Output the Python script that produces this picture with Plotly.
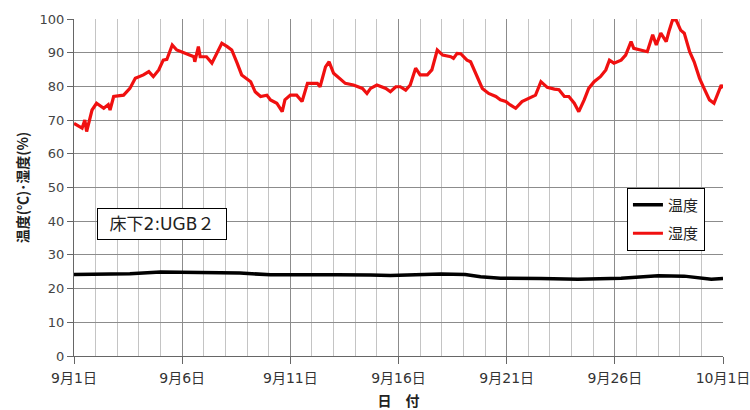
import pandas as pd
import plotly.graph_objects as go

# ---- data ----
start = pd.Timestamp("2023-09-01 00:00")

hum_hours = [0, 9, 12, 14, 20, 25, 33, 38, 40, 44, 55, 62, 68, 77, 83, 88, 94, 99, 103, 109,
             114, 123, 133, 134, 138, 140, 147, 153, 159, 164, 170, 175, 181, 186, 196, 201, 207,
             214, 218, 225, 231, 234, 240, 247, 253, 259, 270, 273, 279, 283, 288, 294, 301, 310,
             320, 325, 329, 336, 346, 351, 357, 362, 368, 373, 379, 384, 392, 397, 403, 409, 418,
             421, 425, 429, 436, 440, 447, 453, 460, 468, 473, 479, 484, 490, 497, 505, 512, 518,
             525, 533, 538, 544, 549, 555, 560, 566, 571, 577, 584, 590, 594, 599, 607, 612, 618,
             621, 629, 636, 642, 646, 651, 657, 660, 664, 668, 673, 677, 683, 688, 694, 699, 705,
             710, 714, 718, 720]
hum_values = [69.0, 67.6, 70.0, 66.6, 73.0, 75.0, 73.5, 74.6, 73.0, 77.0, 77.4, 79.4, 82.4, 83.4,
              84.4, 82.9, 84.9, 87.8, 88.0, 92.3, 90.8, 89.8, 88.8, 87.3, 91.8, 88.8, 88.8, 86.9,
              90.3, 92.8, 91.8, 90.8, 86.9, 83.4, 81.4, 78.4, 77.0, 77.4, 76.0, 75.0, 72.5, 76.0,
              77.4, 77.4, 75.5, 80.9, 80.9, 79.9, 85.8, 87.3, 83.9, 82.4, 80.9, 80.4, 79.4, 77.9,
              79.4, 80.4, 79.4, 78.4, 79.9, 79.9, 78.9, 80.4, 85.4, 83.4, 83.4, 84.9, 90.8, 89.3,
              88.8, 88.3, 89.8, 89.7, 87.8, 87.3, 82.9, 79.4, 77.9, 77.0, 76.0, 75.5, 74.5, 73.5,
              75.5, 76.5, 77.4, 81.4, 79.7, 79.2, 79.0, 77.0, 77.0, 75.0, 72.5, 76.0, 79.4, 81.4,
              82.9, 84.9, 87.8, 86.9, 87.8, 89.3, 93.3, 91.3, 90.8, 90.3, 95.3, 92.3, 95.8, 93.3,
              96.3, 99.7, 99.7, 96.7, 95.8, 90.3, 87.3, 82.4, 79.4, 76.0, 75.0, 77.9, 80.4, 79.5]

temp_hours = [0, 28, 62, 96, 140, 184, 218, 251, 292, 329, 351, 407, 434, 451, 473, 518, 559,
              607, 648, 677, 695, 707, 720]
temp_values = [24.2, 24.2, 24.4, 24.9, 24.8, 24.6, 24.1, 24.2, 24.1, 24.0, 23.9, 24.3, 24.2, 23.5,
               23.1, 23.0, 22.8, 23.1, 23.8, 23.7, 23.3, 22.8, 23.0]

tick_dates = ["2023-09-01", "2023-09-06", "2023-09-11", "2023-09-16", "2023-09-21",
              "2023-09-26", "2023-10-01"]
tick_labels = ["9月1日", "9月6日", "9月11日", "9月16日", "9月21日", "9月26日", "10月1日"]
series_names = ["温度", "湿度"]

hum_x = start + pd.to_timedelta(hum_hours, unit="h")
temp_x = start + pd.to_timedelta(temp_hours, unit="h")

CJK = "Noto Sans CJK JP"
MIX = "DejaVu Sans, Noto Sans CJK JP"

fig = go.Figure()
fig.add_trace(go.Scatter(x=temp_x, y=temp_values, mode="lines", name=series_names[0],
                         legendgroup="t", line=dict(color="#000000", width=3.5)))
fig.add_trace(go.Scatter(x=hum_x, y=hum_values, mode="lines", name=series_names[1],
                         legendgroup="h", line=dict(color="#f01010", width=3.2)))

fig.update_layout(
    width=750, height=410,
    margin=dict(l=74, r=27, t=19, b=54, autoexpand=False),
    paper_bgcolor="white", plot_bgcolor="white",
    font=dict(family=CJK, size=12, color="#333333"),
    showlegend=True,
    legend=dict(x=0.852, y=0.5, xanchor="left", yanchor="top",
                bgcolor="white", bordercolor="#000000", borderwidth=1,
                font=dict(family=CJK, size=15, color="#222222"),
                tracegroupgap=6),
    annotations=[dict(text="床下2:UGB２", xref="paper", yref="paper", x=0.0354, y=0.392,
                      xanchor="left", yanchor="middle", showarrow=False, width=118,
                      font=dict(family=MIX, size=17, color="#222222"),
                      bordercolor="#000000", borderwidth=1, borderpad=5, bgcolor="white")],
)

fig.update_xaxes(
    range=[start, pd.Timestamp("2023-10-01")],
    tickvals=pd.to_datetime(tick_dates), ticktext=tick_labels,
    showgrid=True, gridcolor="#8c8c8c", gridwidth=1,
    minor=dict(dtick=86400000, tick0="2023-09-01", showgrid=True, gridcolor="#c4c4c4",
               gridwidth=1),
    ticks="outside", ticklen=7, tickcolor="#666666",
    ticklabelstandoff=2, ticklabeloverflow="allow", automargin=False,
    showline=True, linecolor="#666666", linewidth=1, mirror=False,
    zeroline=False,
    tickfont=dict(family=MIX, size=14, color="#333333"),
    title=dict(text="<b>日　付</b>", font=dict(family=CJK, size=14, color="#222222"), standoff=17),
)
fig.update_yaxes(
    range=[0, 100], dtick=10,
    showgrid=True, gridcolor="#8c8c8c", gridwidth=1,
    ticks="outside", ticklen=6, tickcolor="#666666",
    showline=True, linecolor="#666666", linewidth=1,
    zeroline=False, automargin=False,
    tickfont=dict(family="DejaVu Sans", size=13, color="#444444"),
    title=dict(text="<b>温度(℃)･湿度(%)</b>", font=dict(family=CJK, size=14, color="#222222"),
               standoff=7),
)

fig.write_html("out.html", config={"displayModeBar": False},
               post_script="document.body.style.margin='0';")
